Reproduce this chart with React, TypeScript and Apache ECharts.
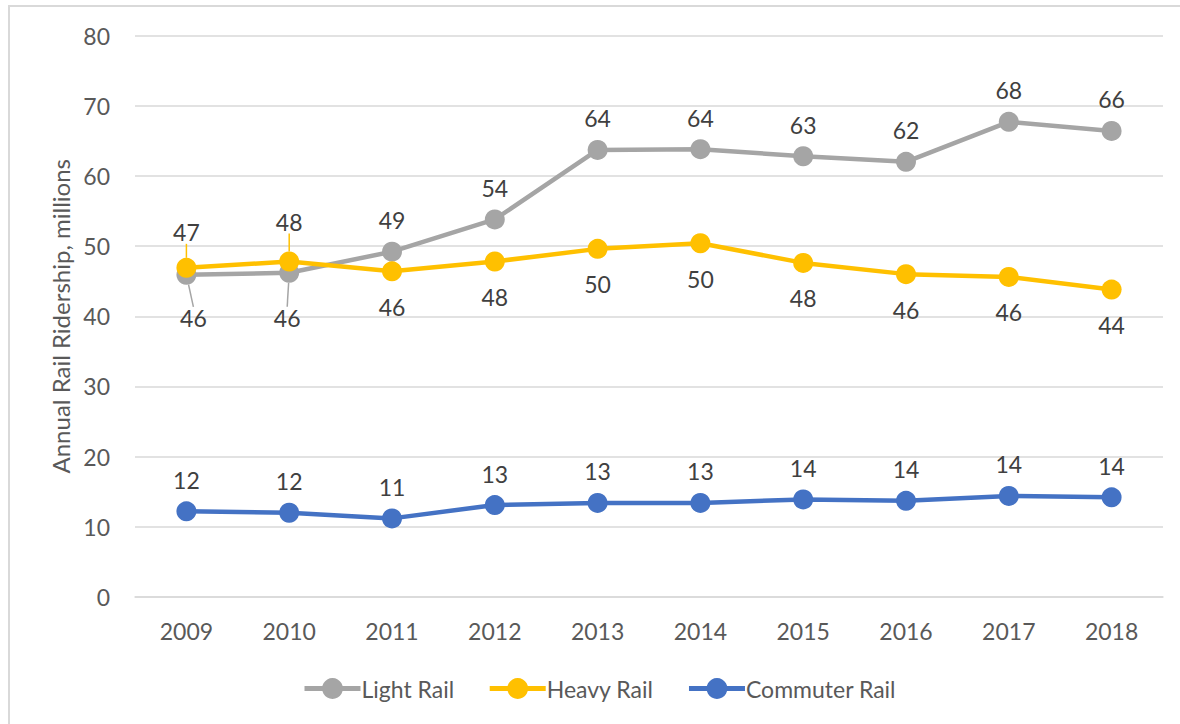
import React, { useEffect, useRef } from "react";
import * as echarts from "echarts";

const years = ["2009", "2010", "2011", "2012", "2013", "2014", "2015", "2016", "2017", "2018"];
const lightRail = [45.9, 46.2, 49.2, 53.8, 63.7, 63.8, 62.8, 62.0, 67.7, 66.4];
const heavyRail = [46.9, 47.8, 46.4, 47.8, 49.6, 50.4, 47.6, 46.0, 45.6, 43.8];
const commuterRail = [12.2, 12.0, 11.2, 13.1, 13.4, 13.4, 13.9, 13.7, 14.4, 14.2];
const seriesNames = ["Light Rail", "Heavy Rail", "Commuter Rail"];
const yTicks = { min: 0, max: 80, interval: 10 };
const yAxisName = "Annual Rail Ridership, millions";

const FONT = "Lato";
const colors = ["#A5A5A5", "#FFC000", "#4472C4"];

export default function App() {
  const ref = useRef<HTMLDivElement>(null);
  useEffect(() => {
    document.body.style.margin = "0";
    if (!ref.current) return;
    const chart = echarts.init(ref.current, undefined, { renderer: "svg" });

    const labelFmt = (p: any) => String(Math.round(p.value));
    const baseLabel = {
      show: true,
      fontFamily: FONT,
      fontSize: 23,
      color: "#404040",
      formatter: labelFmt,
    };

    const lightData = lightRail.map((v, i) =>
      i < 2
        ? {
            value: v,
            label: { position: "bottom", distance: 14 },
            labelLine: { show: true, lineStyle: { color: colors[0], width: 1.5 } },
          }
        : v
    );
    const heavyData = heavyRail.map((v, i) =>
      i < 2
        ? {
            value: v,
            label: { position: "top", distance: 10 },
            labelLine: { show: true, lineStyle: { color: colors[1], width: 1.5 } },
          }
        : v
    );

    const lineSeries = (name: string, data: any[], color: string, labelPos: string, dist: number, layout?: any) => ({
      name,
      type: "line",
      data,
      symbol: "circle",
      symbolSize: 20,
      lineStyle: { color, width: 4.5 },
      itemStyle: { color },
      label: { ...baseLabel, position: labelPos, distance: dist },
      labelLayout: layout,
      emphasis: { disabled: true },
    });

    chart.setOption({
      animation: false,
      textStyle: { fontFamily: FONT },
      graphic: [
        {
          type: "rect",
          shape: { x: 9, y: 6, width: 1300, height: 900 },
          style: { fill: "none", stroke: "#D9D9D9", lineWidth: 2 },
          silent: true,
        },
      ],
      grid: { left: 135, right: 17, top: 35.5, bottom: 127, containLabel: false },
      legend: {
        left: 297,
        top: 672,
        itemWidth: 56,
        itemHeight: 26,
        itemGap: 33,
        lineStyle: { width: 5 },
        textStyle: { fontFamily: FONT, fontSize: 23, color: "#595959", padding: [0, 0, 0, -4] },
        data: seriesNames,
      },
      xAxis: {
        type: "category",
        data: years,
        boundaryGap: true,
        axisLine: { show: true, lineStyle: { color: "#D9D9D9", width: 1.5 } },
        axisTick: { show: false },
        axisLabel: { fontFamily: FONT, fontSize: 23, color: "#595959", margin: 22 },
      },
      yAxis: {
        type: "value",
        min: yTicks.min,
        max: yTicks.max,
        interval: yTicks.interval,
        name: yAxisName,
        nameLocation: "middle",
        nameRotate: 90,
        nameGap: 62,
        nameTextStyle: { fontFamily: FONT, fontSize: 24, color: "#595959" },
        axisLine: { show: false },
        axisTick: { show: false },
        axisLabel: { fontFamily: FONT, fontSize: 23, color: "#595959", margin: 25 },
        splitLine: { lineStyle: { color: "#D9D9D9", width: 1.5 } },
      },
      series: [
        lineSeries(seriesNames[0], lightData, colors[0], "top", 10, (p: any) => {
          if (p.dataIndex === 0) return { dx: 7, dy: 8 };
          if (p.dataIndex === 1) return { dx: -2, dy: 10 };
          return {};
        }),
        lineSeries(seriesNames[1], heavyData, colors[1], "bottom", 14, (p: any) => {
          if (p.dataIndex === 0) return { dy: -4 };
          if (p.dataIndex === 1) return { dy: -8 };
          return {};
        }),
        lineSeries(seriesNames[2], commuterRail, colors[2], "top", 10),
      ],
    });
    return () => chart.dispose();
  }, []);
  return <div ref={ref} style={{ width: 1180, height: 724 }} />;
}
